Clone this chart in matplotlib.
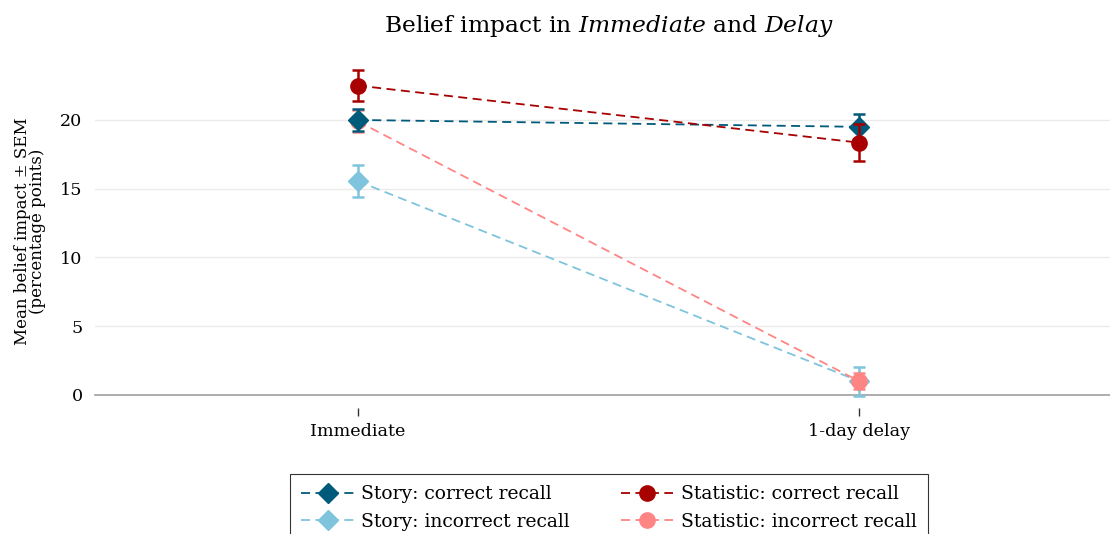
import matplotlib
matplotlib.use("Agg")
import matplotlib.pyplot as plt
from matplotlib.lines import Line2D
from matplotlib.transforms import offset_copy
import numpy as np

categories = ["Immediate", "1-day delay"]
series_names = ["Story: correct recall", "Statistic: correct recall",
                "Story: incorrect recall", "Statistic: incorrect recall"]
story_correct = [20.0, 19.5]
story_correct_sem = [0.8, 0.9]
stat_correct = [22.5, 18.35]
stat_correct_sem = [1.1, 1.35]
story_incorrect = [15.55, 1.0]
story_incorrect_sem = [1.15, 1.05]
stat_incorrect = [19.9, 1.0]
stat_incorrect_sem = [0.8, 0.6]
yticks = [0, 5, 10, 15, 20]

plt.rcParams['font.family'] = ['DejaVu Serif']
plt.rcParams['mathtext.fontset'] = 'dejavuserif'

fig = plt.figure(figsize=(11.1, 5.34), dpi=100)
ax = fig.add_axes([0.0856, 0.2603, 0.9144, 0.6142])

x = np.arange(len(categories))
specs = {
    'sc': (story_correct, story_correct_sem, '#005a7a', 'D', series_names[0]),
    'tc': (stat_correct, stat_correct_sem, '#a80000', 'o', series_names[1]),
    'si': (story_incorrect, story_incorrect_sem, '#7ec4dd', 'D', series_names[2]),
    'ti': (stat_incorrect, stat_incorrect_sem, '#ff8585', 'o', series_names[3]),
}
dash = (0, (5, 3))
handles = {}
for z, key in enumerate(['si', 'ti', 'sc', 'tc']):
    vals, sem, col, mk, name = specs[key]
    msz = 10 if mk == 'D' else 11
    ax.errorbar(x, vals, yerr=sem, color=col, marker=mk, markersize=msz,
                linestyle=dash, linewidth=1.3, elinewidth=1.8,
                capsize=4, capthick=1.8, clip_on=False, zorder=3 + z)
    handles[key] = Line2D([], [], color=col, marker=mk, markersize=msz,
                          linestyle=dash, linewidth=1.3)

ax.set_xlim(-0.524, 1.5)
ax.set_ylim(0, 23.85)
ax.set_xticks(x)
ax.set_xticklabels(categories, fontsize=12.6)
ax.set_yticks(yticks)
ax.set_yticklabels([str(v) for v in yticks], fontsize=12.6)
ax.yaxis.grid(True, color='#ebebeb', linewidth=1)
ax.set_axisbelow(True)
for s in ['top', 'right', 'left']:
    ax.spines[s].set_visible(False)
ax.spines['bottom'].set_color('#a0a0a0')
ax.spines['bottom'].set_linewidth(1.2)
ax.tick_params(axis='y', length=0, pad=9)
ax.tick_params(axis='x', length=0, pad=20)

# detached x tick marks
trans = offset_copy(ax.get_xaxis_transform(), fig=fig, x=0, y=-12.5, units='points')
ax.plot(x, [0] * len(x), transform=trans, marker='|', markersize=6,
        markeredgewidth=1, color='#333333', linestyle='none', clip_on=False)

ax.set_ylabel("Mean belief impact ± SEM\n(percentage points)", fontsize=12,
              labelpad=10, linespacing=0.85)
ax.set_title(r"Belief impact in $\mathit{Immediate}$ and $\mathit{Delay}$",
             fontsize=16.8, pad=25, x=0.5064)

leg = fig.legend([handles['sc'], handles['si'], handles['tc'], handles['ti']],
                 [series_names[0], series_names[2], series_names[1], series_names[3]],
                 ncol=2, loc='upper center', bbox_to_anchor=(0.5486, 0.1124),
                 borderaxespad=0,
                 fontsize=13.5, frameon=True, fancybox=False, edgecolor='black',
                 handlelength=2.8, handletextpad=0.4, columnspacing=2.7,
                 labelspacing=0.5, borderpad=0.6)
leg.get_frame().set_linewidth(0.8)

fig.savefig("out.png", dpi=100)
